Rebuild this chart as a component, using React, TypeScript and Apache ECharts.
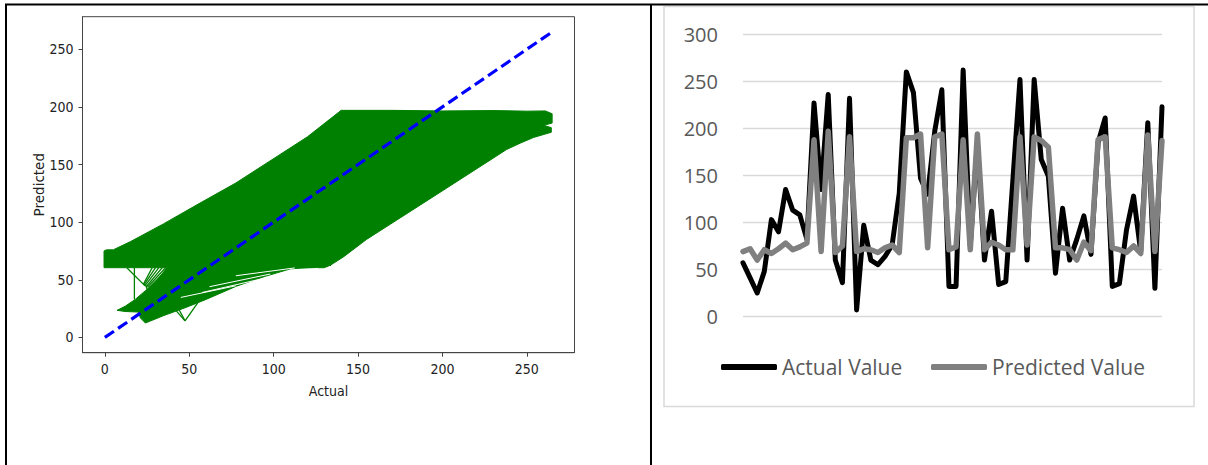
import React, { useEffect, useRef } from "react";
import * as echarts from "echarts";

// ---------- Right panel: line chart data ----------
const ACTUAL = [57, 41, 25, 48, 103, 90, 135, 113, 108, 82, 227, 135, 236, 60, 36, 232, 7, 97, 60, 55, 64, 76, 131, 260, 238, 147, 130, 197, 241, 32, 32, 262, 75, 185, 60, 112, 34, 37, 145, 252, 60, 252, 167, 149, 46, 115, 60, 82, 107, 66, 185, 211, 32, 35, 92, 128, 69, 206, 30, 223];
const PREDICTED = [69, 72, 60, 71, 67, 72, 78, 71, 74, 78, 188, 69, 197, 68, 75, 191, 69, 72, 71, 68, 73, 76, 68, 190, 190, 194, 73, 191, 194, 71, 74, 188, 71, 194, 71, 79, 76, 71, 71, 191, 76, 191, 187, 180, 73, 73, 71, 60, 79, 70, 188, 191, 73, 71, 68, 75, 67, 193, 69, 187];
const CATEGORIES = ACTUAL.map((_, i) => String(i + 1));

// ---------- Left panel: actual vs predicted ----------
const LEFT_TICKS = [0, 50, 100, 150, 200, 250];
const IDEAL_LINE = [[0, 0], [265, 265]];
const BODY = [
  [-0.5, 60.5], [-0.5, 75], [1, 76], [5, 76], [15, 83], [34.7, 98.5], [54.5, 115],
  [77.6, 134], [102.5, 157.5], [120, 174], [140, 197], [170, 197],
  [200, 196.5], [230, 196.8], [250, 196.3], [261, 196.5], [265, 194], [265, 186],
  [260, 184], [264.5, 182], [264.5, 178], [254, 173.5], [246, 168.5], [238, 163],
  [195, 122.5], [155, 85], [141.5, 70], [134, 63], [130, 60.5],
];
const LOWER = [
  [7.2, 23.5], [12, 27], [18, 33], [24, 40.5], [30, 48], [37, 60.8], [134, 62.5],
  [125, 61], [110, 59.5], [95, 53], [78, 44.5], [60, 33], [48, 26], [35, 19],
  [24, 12.5], [21, 17], [20, 22], [12, 22.5],
];
const GREEN_STRANDS = [
  [13, 60.5, 23.8, 44.7], [17.5, 60.5, 17.5, 33], [28, 60.5, 22.8, 46],
  [30, 60.5, 23.2, 45.5], [32, 60.5, 23.8, 45], [34, 60.5, 24.5, 44],
  [36, 60.5, 25.2, 43.5], [38, 60.5, 26, 43],
  [40, 27, 47.5, 14.4], [47.5, 14.4, 55, 30], [44, 24, 47.5, 14.4], [24, 46, 26, 38],
];
const WHITE_GAPS = [
  [57.6, 39, 117.5, 59], [77.6, 53.5, 112.5, 60.3], [45, 34.7, 77.6, 44.8],
  [62, 44, 98, 55], [88, 48, 126, 60],
];

const GREEN = "#008000";
const NARROW = "'Liberation Sans Narrow', 'DejaVu Sans Condensed', 'DejaVu Sans', sans-serif";
const EXCEL = "'Open Sans', 'Noto Sans', sans-serif";

function polygonSeries(points: number[][], color: string, z: number) {
  return {
    type: "custom",
    xAxisIndex: 0,
    yAxisIndex: 0,
    z,
    silent: true,
    data: points,
    renderItem: (params: any, api: any) => {
      if (params.dataIndex !== 0) return null;
      return {
        type: "polygon",
        shape: { points: points.map((p) => api.coord(p)) },
        style: { fill: color, stroke: color, lineWidth: 1 },
      };
    },
  };
}

function segmentSeries(segs: number[][], color: string, width: number, z: number) {
  return {
    type: "custom",
    xAxisIndex: 0,
    yAxisIndex: 0,
    z,
    silent: true,
    data: segs,
    renderItem: (params: any, api: any) => {
      const a = api.coord([api.value(0), api.value(1)]);
      const b = api.coord([api.value(2), api.value(3)]);
      return {
        type: "line",
        shape: { x1: a[0], y1: a[1], x2: b[0], y2: b[1] },
        style: { stroke: color, lineWidth: width },
      };
    },
  };
}

export default function App() {
  const ref = useRef<HTMLDivElement>(null);

  useEffect(() => {
    if (!ref.current) return;
    const chart = echarts.init(ref.current, null, { renderer: "svg" });
    const leftLabel = { fontFamily: NARROW, fontSize: 14, color: "#222" };
    const legendText = { fontFamily: EXCEL, fontSize: 21, color: "#595959", lineHeight: 26 };
    chart.setOption({
      animation: false,
      backgroundColor: "#ffffff",
      grid: [
        { left: 82.5, top: 16.7, width: 492, height: 336, show: true, borderColor: "#444", borderWidth: 1, backgroundColor: "transparent" },
        { left: 743, right: 46, top: 34.3, bottom: 148.5 },
      ],
      xAxis: [
        {
          type: "value",
          gridIndex: 0,
          min: -13.25,
          max: 278.25,
          axisLine: { show: true, onZero: false, lineStyle: { color: "#444", width: 1 } },
          axisTick: { show: true, length: 4, customValues: LEFT_TICKS, lineStyle: { color: "#444" } },
          axisLabel: { ...leftLabel, customValues: LEFT_TICKS, margin: 9 },
          splitLine: { show: false },
          name: "Actual",
          nameLocation: "middle",
          nameGap: 31,
          nameTextStyle: { fontFamily: NARROW, fontSize: 14, color: "#222" },
        },
        {
          type: "category",
          gridIndex: 1,
          data: CATEGORIES,
          boundaryGap: false,
          axisLine: { show: false },
          axisTick: { show: false },
          axisLabel: { show: false },
          splitLine: { show: false },
        },
      ],
      yAxis: [
        {
          type: "value",
          gridIndex: 0,
          min: -13.25,
          max: 278.25,
          axisLine: { show: true, onZero: false, lineStyle: { color: "#444", width: 1 } },
          axisTick: { show: true, length: 4, customValues: LEFT_TICKS, lineStyle: { color: "#444" } },
          axisLabel: { ...leftLabel, customValues: LEFT_TICKS, margin: 9 },
          splitLine: { show: false },
          name: "Predicted",
          nameLocation: "middle",
          nameGap: 29,
          nameRotate: 90,
          nameTextStyle: { fontFamily: "'DejaVu Sans', sans-serif", fontSize: 13.5, color: "#222" },
        },
        {
          type: "value",
          gridIndex: 1,
          min: 0,
          max: 300,
          interval: 50,
          axisLine: { show: false },
          axisTick: { show: false },
          axisLabel: { fontFamily: EXCEL, fontSize: 20, color: "#595959", margin: 25 },
          splitLine: { show: true, lineStyle: { color: "#d9d9d9", width: 1.4 } },
        },
      ],
      legend: [
        {
          data: ["Actual Value"],
          left: 721,
          top: 354,
          padding: 0,
          icon: "roundRect",
          itemWidth: 56,
          itemHeight: 6,
          selectedMode: false,
          textStyle: legendText,
        },
        {
          data: ["Predicted Value"],
          left: 931,
          top: 354,
          padding: 0,
          icon: "roundRect",
          itemWidth: 56,
          itemHeight: 6,
          selectedMode: false,
          textStyle: legendText,
        },
      ],
      series: [
        polygonSeries(LOWER, GREEN, 2),
        polygonSeries(BODY, GREEN, 2),
        segmentSeries(WHITE_GAPS, "#ffffff", 1, 3),
        segmentSeries(GREEN_STRANDS, GREEN, 1.3, 3),
        {
          type: "line",
          xAxisIndex: 0,
          yAxisIndex: 0,
          data: IDEAL_LINE,
          symbol: "none",
          z: 5,
          silent: true,
          lineStyle: { color: "#0000ff", width: 3.2, type: [11, 5] },
        },
        {
          name: "Actual Value",
          type: "line",
          xAxisIndex: 1,
          yAxisIndex: 1,
          data: ACTUAL,
          symbol: "none",
          color: "#000000",
          lineStyle: { color: "#000000", width: 5, join: "round", cap: "round" },
          z: 3,
        },
        {
          name: "Predicted Value",
          type: "line",
          xAxisIndex: 1,
          yAxisIndex: 1,
          data: PREDICTED,
          symbol: "none",
          color: "#808080",
          lineStyle: { color: "#808080", width: 5.5, join: "round", cap: "round" },
          z: 4,
        },
      ],
      graphic: [
        { type: "rect", shape: { x: 664, y: 6.5, width: 530, height: 400 }, style: { fill: "none", stroke: "#d9d9d9", lineWidth: 1.5 }, silent: true, z: -1 },
        { type: "line", shape: { x1: 5, y1: 4.5, x2: 1208, y2: 4.5 }, style: { stroke: "#000", lineWidth: 2 }, silent: true },
        { type: "line", shape: { x1: 6, y1: 4, x2: 6, y2: 465 }, style: { stroke: "#000", lineWidth: 2 }, silent: true },
        { type: "line", shape: { x1: 651, y1: 4, x2: 651, y2: 465 }, style: { stroke: "#000", lineWidth: 2 }, silent: true },
      ],
    });
    return () => chart.dispose();
  }, []);

  return (
    <div
      ref={ref}
      style={{ position: "absolute", left: 0, top: 0, width: 1208, height: 465, background: "#fff" }}
    />
  );
}
